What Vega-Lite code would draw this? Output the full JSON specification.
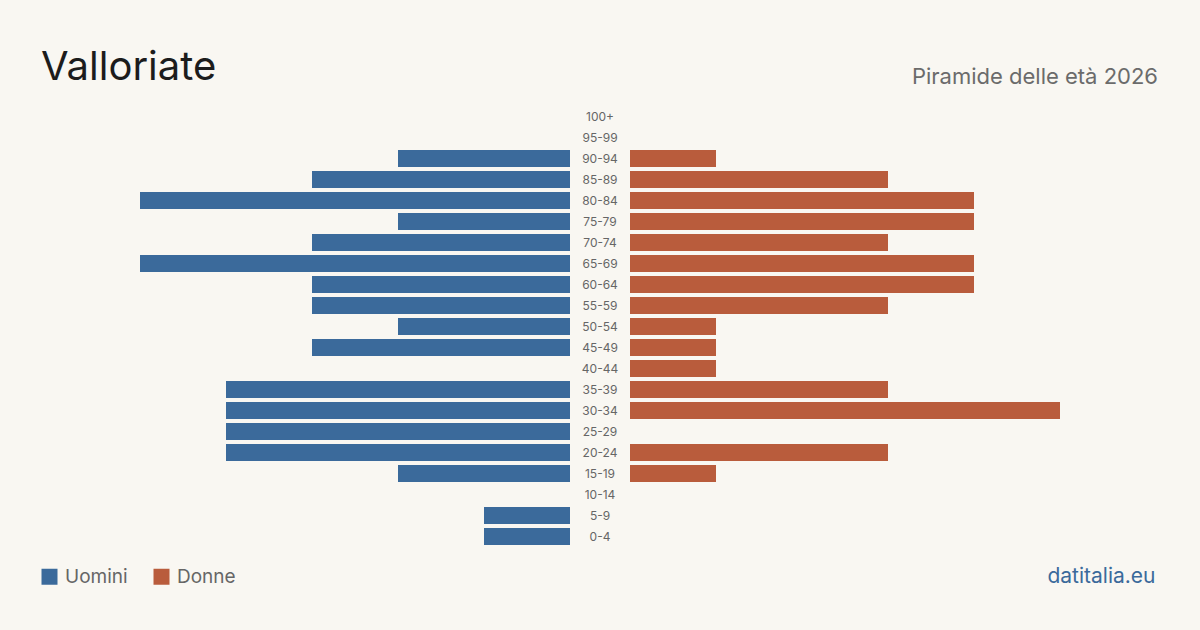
{
  "$schema": "https://vega.github.io/schema/vega-lite/v6.json",
  "background": "#f9f7f2",
  "padding": {"left": 40, "top": 48, "right": 42, "bottom": 44},
  "spacing": 0,
  "config": {
    "font": "Inter",
    "view": {"stroke": null},
    "axis": {"grid": false}
  },
  "data": {
    "values": [
      {"eta": "100+", "sesso": "Uomini", "n": 0}, {"eta": "100+", "sesso": "Donne", "n": 0},
      {"eta": "95-99", "sesso": "Uomini", "n": 0}, {"eta": "95-99", "sesso": "Donne", "n": 0},
      {"eta": "90-94", "sesso": "Uomini", "n": 2}, {"eta": "90-94", "sesso": "Donne", "n": 1},
      {"eta": "85-89", "sesso": "Uomini", "n": 3}, {"eta": "85-89", "sesso": "Donne", "n": 3},
      {"eta": "80-84", "sesso": "Uomini", "n": 5}, {"eta": "80-84", "sesso": "Donne", "n": 4},
      {"eta": "75-79", "sesso": "Uomini", "n": 2}, {"eta": "75-79", "sesso": "Donne", "n": 4},
      {"eta": "70-74", "sesso": "Uomini", "n": 3}, {"eta": "70-74", "sesso": "Donne", "n": 3},
      {"eta": "65-69", "sesso": "Uomini", "n": 5}, {"eta": "65-69", "sesso": "Donne", "n": 4},
      {"eta": "60-64", "sesso": "Uomini", "n": 3}, {"eta": "60-64", "sesso": "Donne", "n": 4},
      {"eta": "55-59", "sesso": "Uomini", "n": 3}, {"eta": "55-59", "sesso": "Donne", "n": 3},
      {"eta": "50-54", "sesso": "Uomini", "n": 2}, {"eta": "50-54", "sesso": "Donne", "n": 1},
      {"eta": "45-49", "sesso": "Uomini", "n": 3}, {"eta": "45-49", "sesso": "Donne", "n": 1},
      {"eta": "40-44", "sesso": "Uomini", "n": 0}, {"eta": "40-44", "sesso": "Donne", "n": 1},
      {"eta": "35-39", "sesso": "Uomini", "n": 4}, {"eta": "35-39", "sesso": "Donne", "n": 3},
      {"eta": "30-34", "sesso": "Uomini", "n": 4}, {"eta": "30-34", "sesso": "Donne", "n": 5},
      {"eta": "25-29", "sesso": "Uomini", "n": 4}, {"eta": "25-29", "sesso": "Donne", "n": 0},
      {"eta": "20-24", "sesso": "Uomini", "n": 4}, {"eta": "20-24", "sesso": "Donne", "n": 3},
      {"eta": "15-19", "sesso": "Uomini", "n": 2}, {"eta": "15-19", "sesso": "Donne", "n": 1},
      {"eta": "10-14", "sesso": "Uomini", "n": 0}, {"eta": "10-14", "sesso": "Donne", "n": 0},
      {"eta": "5-9", "sesso": "Uomini", "n": 1}, {"eta": "5-9", "sesso": "Donne", "n": 0},
      {"eta": "0-4", "sesso": "Uomini", "n": 1}, {"eta": "0-4", "sesso": "Donne", "n": 0}
    ]
  },
  "hconcat": [
    {
      "width": 430,
      "height": 441,
      "title": {
        "text": "Valloriate",
        "anchor": "start",
        "frame": "group",
        "dx": -99,
        "offset": -14,
        "baseline": "alphabetic",
        "fontSize": 40,
        "fontWeight": "normal",
        "color": "#1c1c1c"
      },
      "transform": [{"filter": "datum.sesso === 'Uomini'"}],
      "mark": {"type": "bar"},
      "encoding": {
        "y": {
          "field": "eta",
          "type": "nominal",
          "axis": null,
          "scale": {
            "domain": ["100+", "95-99", "90-94", "85-89", "80-84", "75-79", "70-74", "65-69", "60-64", "55-59", "50-54", "45-49", "40-44", "35-39", "30-34", "25-29", "20-24", "15-19", "10-14", "5-9", "0-4"],
            "paddingInner": 0.19,
            "paddingOuter": 0.095
          }
        },
        "x": {
          "field": "n",
          "type": "quantitative",
          "axis": null,
          "scale": {"domain": [0, 5], "nice": false, "reverse": true}
        },
        "color": {
          "field": "sesso",
          "type": "nominal",
          "scale": {"domain": ["Uomini", "Donne"], "range": ["#3b6a9b", "#b95c3c"]},
          "legend": {
            "orient": "none",
            "legendX": -100,
            "legendY": 461,
            "direction": "horizontal",
            "title": null,
            "symbolType": "square",
            "symbolSize": 256,
            "symbolStrokeWidth": 0,
            "symbolOpacity": 1,
            "labelFontSize": 19,
            "labelColor": "#666666",
            "labelOffset": 6,
            "columnPadding": 24,
            "padding": 0
          }
        }
      }
    },
    {
      "width": 60,
      "height": 441,
      "transform": [{"filter": "datum.sesso === 'Uomini'"}],
      "mark": {"type": "text", "align": "center", "baseline": "middle", "fontSize": 12, "color": "#666666"},
      "encoding": {
        "y": {
          "field": "eta",
          "type": "nominal",
          "axis": null,
          "scale": {
            "domain": ["100+", "95-99", "90-94", "85-89", "80-84", "75-79", "70-74", "65-69", "60-64", "55-59", "50-54", "45-49", "40-44", "35-39", "30-34", "25-29", "20-24", "15-19", "10-14", "5-9", "0-4"],
            "paddingInner": 0.19,
            "paddingOuter": 0.095
          }
        },
        "text": {"field": "eta", "type": "nominal"}
      }
    },
    {
      "width": 430,
      "height": 441,
      "title": {
        "text": "Piramide delle età 2026",
        "anchor": "end",
        "frame": "group",
        "dx": 98,
        "offset": 0,
        "baseline": "alphabetic",
        "fontSize": 22,
        "fontWeight": "normal",
        "color": "#6b6b6b"
      },
      "transform": [{"filter": "datum.sesso === 'Donne'"}],
      "mark": {"type": "bar"},
      "encoding": {
        "y": {
          "field": "eta",
          "type": "nominal",
          "axis": null,
          "scale": {
            "domain": ["100+", "95-99", "90-94", "85-89", "80-84", "75-79", "70-74", "65-69", "60-64", "55-59", "50-54", "45-49", "40-44", "35-39", "30-34", "25-29", "20-24", "15-19", "10-14", "5-9", "0-4"],
            "paddingInner": 0.19,
            "paddingOuter": 0.095
          }
        },
        "x": {
          "field": "n",
          "type": "quantitative",
          "scale": {"domain": [0, 5], "nice": false},
          "axis": {
            "orient": "bottom",
            "labels": false,
            "ticks": false,
            "domain": false,
            "grid": false,
            "title": "datitalia.eu",
            "titleX": 525,
            "titleY": 35,
            "titleAlign": "right",
            "titleAnchor": "end",
            "titleBaseline": "alphabetic",
            "titleFontSize": 21,
            "titleFontWeight": "normal",
            "titleColor": "#3b6a9b"
          }
        },
        "color": {"field": "sesso", "type": "nominal"}
      }
    }
  ]
}
